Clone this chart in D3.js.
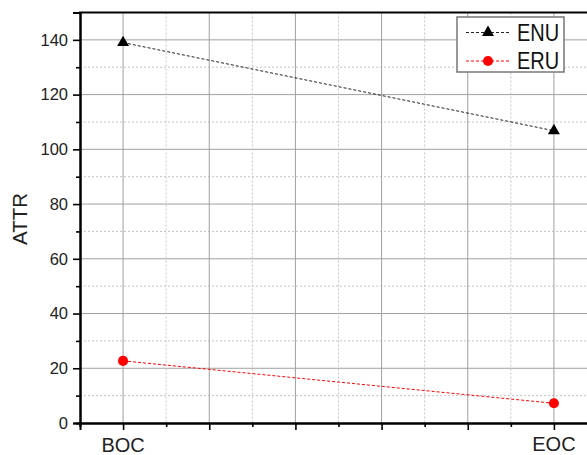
<!DOCTYPE html>
<html>
<head>
<meta charset="utf-8">
<script src="https://cdn.jsdelivr.net/npm/d3@7"></script>
<style>
  body { margin: 0; background: #fff; }
  svg { display: block; font-family: "Liberation Sans", Arial, sans-serif; }
</style>
</head>
<body>
<svg class="chart" width="587" height="455"></svg>
<script>
// values
const categories = ['BOC', 'EOC']
const enuValues = [139, 106.8]
const eruValues = [22.7, 7.2]
const yMajorTicks = [0, 20, 40, 60, 80, 100, 120, 140]
const yMinorTicks = [10, 30, 50, 70, 90, 110, 130]
const xMajorTicks = [1.0, 1.2, 1.4, 1.6, 1.8, 2.0]
const xMinorTicks = [0.9, 1.1, 1.3, 1.5, 1.7, 1.9]

const series = [
  { name: 'ENU', values: enuValues, color: '#000', line: '#222', symbol: d3.symbolTriangle, size: 62 },
  { name: 'ERU', values: eruValues, color: '#f00', line: '#f00', symbol: d3.symbolCircle, size: 80 }
]

const plot = { left: 80, right: 597, top: 12.5, bottom: 423 }

const svg = d3.select('svg.chart')

// category i sits at x = i + 1
const x = d3.scaleLinear().domain([0.9, 2.1]).range([plot.left, plot.right])
const y = d3.scaleLinear().domain([0, 150]).range([plot.bottom, plot.top])

// grid
const grid = svg.append('g').attr('class', 'grid')
grid.selectAll('line.ymaj').data(yMajorTicks.filter(d => d > 0)).enter().append('line')
  .attr('x1', plot.left).attr('x2', plot.right)
  .attr('y1', d => y(d)).attr('y2', d => y(d))
  .attr('stroke', '#a0a0a0').attr('stroke-width', 1)
grid.selectAll('line.ymin').data(yMinorTicks).enter().append('line')
  .attr('x1', plot.left).attr('x2', plot.right)
  .attr('y1', d => y(d)).attr('y2', d => y(d))
  .attr('stroke', '#c4c4c4').attr('stroke-width', 1).attr('stroke-dasharray', '2,2')
grid.selectAll('line.xmaj').data(xMajorTicks).enter().append('line')
  .attr('x1', d => x(d)).attr('x2', d => x(d))
  .attr('y1', plot.top).attr('y2', plot.bottom)
  .attr('stroke', '#a0a0a0').attr('stroke-width', 1)
grid.selectAll('line.xmin').data(xMinorTicks.filter(d => d > 0.9)).enter().append('line')
  .attr('x1', d => x(d)).attr('x2', d => x(d))
  .attr('y1', plot.top).attr('y2', plot.bottom)
  .attr('stroke', '#c4c4c4').attr('stroke-width', 1).attr('stroke-dasharray', '2,2')

// axes
const yAxis = svg.append('g').attr('transform', `translate(${plot.left},0)`)
  .call(d3.axisLeft(y).tickValues(yMajorTicks).tickSize(7).tickPadding(5).tickFormat(d3.format('d')))
yAxis.append('g').call(d3.axisLeft(y).tickValues(yMinorTicks).tickSize(4).tickFormat(''))

const xAxis = svg.append('g').attr('transform', `translate(0,${plot.bottom})`)
  .call(d3.axisBottom(x).tickValues(xMajorTicks).tickSize(7).tickFormat(''))
xAxis.append('g').call(d3.axisBottom(x).tickValues(xMinorTicks).tickSize(4).tickFormat(''))

svg.selectAll('.domain').attr('stroke', '#000').attr('stroke-width', 2)
svg.selectAll('.tick line').attr('stroke', '#000').attr('stroke-width', 1.6)
yAxis.selectAll('text').attr('font-size', 16.5).attr('fill', '#222')
  .attr('font-family', '"Liberation Sans", Arial, sans-serif')

// top axis line
svg.append('line')
  .attr('x1', plot.left - 1).attr('x2', plot.right)
  .attr('y1', plot.top).attr('y2', plot.top)
  .attr('stroke', '#000').attr('stroke-width', 2)

// category labels
svg.selectAll('text.cat').data(categories).enter().append('text')
  .attr('class', 'cat')
  .attr('x', (d, i) => x(i + 1))
  .attr('y', (d, i) => i === 0 ? 451.5 : 451)
  .attr('text-anchor', 'middle')
  .attr('font-size', 20)
  .attr('fill', '#222')
  .text(d => d)

// y label
svg.append('text')
  .attr('transform', `translate(27,219) rotate(-90)`)
  .attr('text-anchor', 'middle')
  .attr('font-size', 20.5)
  .attr('fill', '#222')
  .text('ATTR')

// series
const lineGen = d3.line().x((d, i) => x(i + 1)).y(d => y(d))
series.forEach(s => {
  svg.append('path')
    .attr('d', lineGen(s.values))
    .attr('fill', 'none')
    .attr('stroke', s.line)
    .attr('stroke-width', 1)
    .attr('stroke-dasharray', '3,2')
  svg.selectAll(null).data(s.values).enter().append('path')
    .attr('d', d3.symbol().type(s.symbol).size(s.size))
    .attr('transform', (d, i) => `translate(${x(i + 1)},${y(d)})`)
    .attr('fill', s.color)
})

// legend
const legend = svg.append('g').attr('transform', 'translate(457,17)')
legend.append('rect')
  .attr('width', 107).attr('height', 55)
  .attr('fill', '#fff').attr('stroke', '#777').attr('stroke-width', 1.5)
const rows = legend.selectAll('g.row').data(series).enter().append('g')
  .attr('transform', (d, i) => `translate(0,${15.5 + i * 28.5})`)
rows.append('line')
  .attr('x1', 9).attr('x2', 53)
  .attr('stroke', d => d.line).attr('stroke-width', 1).attr('stroke-dasharray', '3,2')
rows.append('path')
  .attr('d', d => d3.symbol().type(d.symbol).size(d.size)())
  .attr('transform', 'translate(31,0)')
  .attr('fill', d => d.color)
rows.append('text')
  .attr('transform', 'translate(60,0) scale(1,1.16)')
  .attr('dy', '0.36em')
  .attr('font-size', 20)
  .attr('fill', '#111')
  .text(d => d.name)
</script>
</body>
</html>
